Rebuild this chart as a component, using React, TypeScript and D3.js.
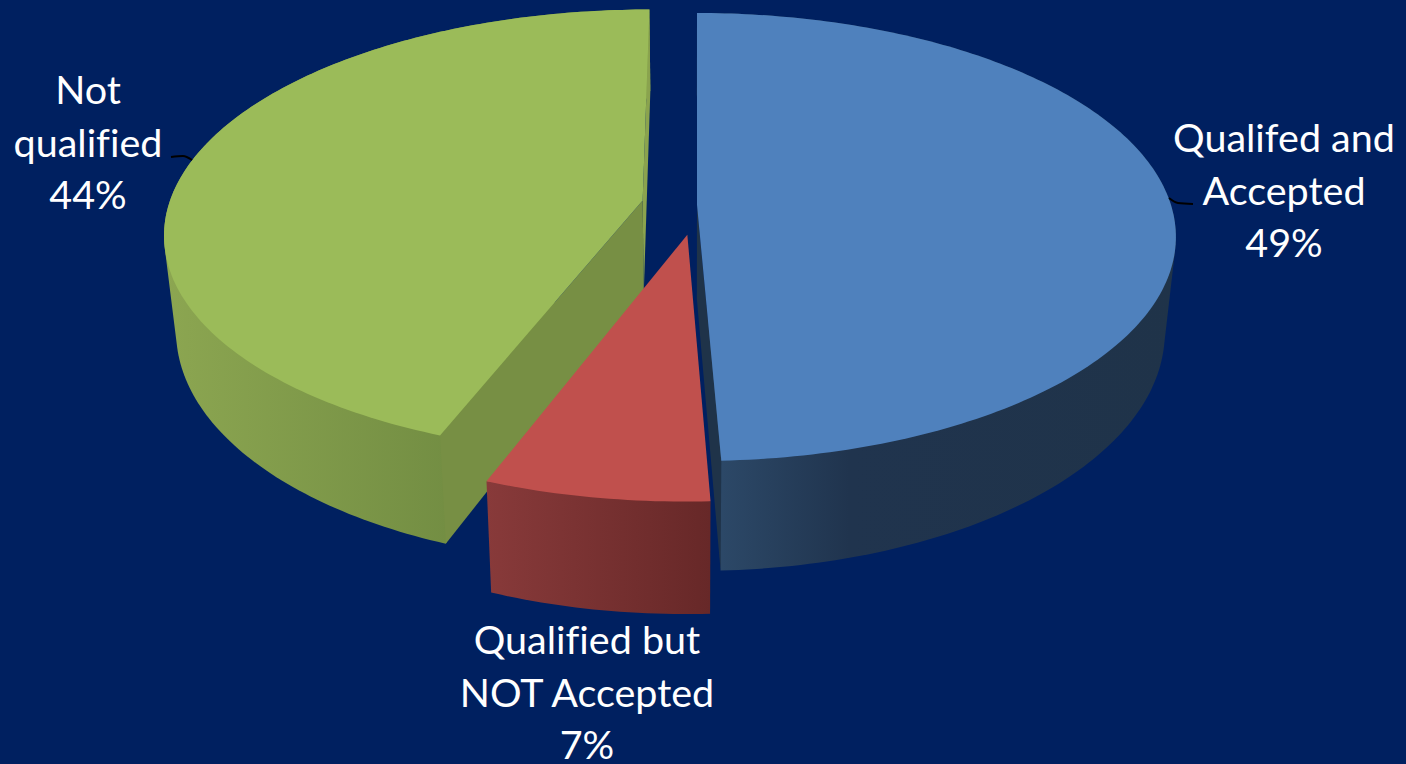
import React from "react";
import * as d3 from "d3";

const W = 1406;
const H = 764;

const categories = ["Qualifed and Accepted", "Qualified but NOT Accepted", "Not qualified"];
const values = [49.3, 6.5, 44.2];
const percentLabels = ["49%", "7%", "44%"];
const topColors = ["#4f81bd", "#c0504d", "#9bbb59"];
const explodeU = [0, -0.02, -0.115];
const explodeV = [0, -0.133, 0.021];
const wallStops = [
  [["#2c4867", 0], ["#20344e", 0.28], ["#1f3349", 1]],
  [["#883a3a", 0], ["#672828", 1]],
  [["#8ca651", 0], ["#6c873f", 0.75], ["#7b9546", 1]],
] as [string, number][][];
const labelLines = [
  ["Qualifed and", "Accepted", "49%"],
  ["Qualified but", "NOT Accepted", "7%"],
  ["Not", "qualified", "44%"],
];
const labelX = [1284, 587, 88];
const labelY = [152, 654, 104];
const leaders = [
  [[1169, 198], [1178, 203], [1193, 204]],
  [],
  [[171, 157], [183, 156], [192, 160]],
] as [number, number][][];

const CX = 697, CY = 205, A = 219.4, B = 474, K = 1 / 7;
const project = (u: number, v: number): [number, number] => {
  const s = 1 + K * v;
  return [CX + (B * u) / s, CY - (A * v) / s];
};
const sink = ([x, y]: [number, number]): [number, number] => [
  690 + 0.977 * (x - 690),
  y + 93 + 0.064 * (y - 197),
];

const line = d3.line<[number, number]>();
const pie = d3.pie<number>().sort(null).value((d) => d);
const arcs = pie(values);

function App() {
  const slices = arcs.map((a, i) => {
    const steps = Math.max(8, Math.ceil((a.endAngle - a.startAngle) * 60));
    const rim = d3.range(steps + 1).map((k) => {
      const t = a.startAngle + ((a.endAngle - a.startAngle) * k) / steps;
      return project(Math.sin(t) + explodeU[i], Math.cos(t) + explodeV[i]);
    });
    const apex = project(explodeU[i], explodeV[i]);
    const rimLow = rim.map(sink);
    const apexLow = sink(apex);
    const first = rim[0], last = rim[rim.length - 1];
    return {
      i,
      top: line([apex, ...rim])! + "Z",
      wall: line(d3.polygonHull([...rim, ...rimLow])!)! + "Z",
      cutStart: line([apex, first, rimLow[0], apexLow])! + "Z",
      cutEnd: line([apex, last, rimLow[rimLow.length - 1], apexLow])! + "Z",
      xMin: d3.min(rim, (p) => p[0])!,
      xMax: d3.max(rim, (p) => p[0])!,
    };
  });
  const order = [2, 0, 1];
  return (
    <svg
      width={W}
      height={H}
      viewBox={`0 0 ${W} ${H}`}
      style={{ position: "absolute", left: 0, top: 0, display: "block", background: "#002060" }}
    >
      <defs>
        {slices.map((s) => (
          <linearGradient
            key={s.i}
            id={`wall${s.i}`}
            gradientUnits="userSpaceOnUse"
            x1={s.i === 0 ? 722 : s.xMin}
            x2={s.xMax}
            y1={0}
            y2={0}
          >
            {wallStops[s.i].map(([c, o]) => (
              <stop key={o} offset={o} stopColor={c} />
            ))}
          </linearGradient>
        ))}
      </defs>
      {order.map((i) => {
        const s = slices[i];
        return (
          <g key={categories[i]}>
            <path d={s.wall} fill={`url(#wall${i})`} />
            {i === 0 && <path d={s.cutEnd} fill="#1f3349" />}
            {i === 2 && <path d={s.cutEnd} fill="#8aa34e" />}
            {i === 2 && <path d={s.cutStart} fill="#778f44" />}
            <path d={s.top} fill={topColors[i]} />
          </g>
        );
      })}
      {leaders.map((pts, i) =>
        pts.length ? (
          <path
            key={i}
            d={d3.line<[number, number]>().curve(d3.curveMonotoneX)(pts)!}
            fill="none"
            stroke="#000"
            strokeWidth={2}
          />
        ) : null,
      )}
      {labelLines.map((lines, i) => (
        <text
          key={i}
          textAnchor="middle"
          fill="#fff"
          fontFamily="Lato, 'Open Sans', sans-serif"
          fontSize={39.5}
          style={{ fontVariantLigatures: "none" }}
        >
          {lines.map((t, j) => (
            <tspan key={j} x={labelX[i]} y={labelY[i] + j * 52.5}>
              {j === 2 ? percentLabels[i] : t}
            </tspan>
          ))}
        </text>
      ))}
    </svg>
  );
}

export default App;
